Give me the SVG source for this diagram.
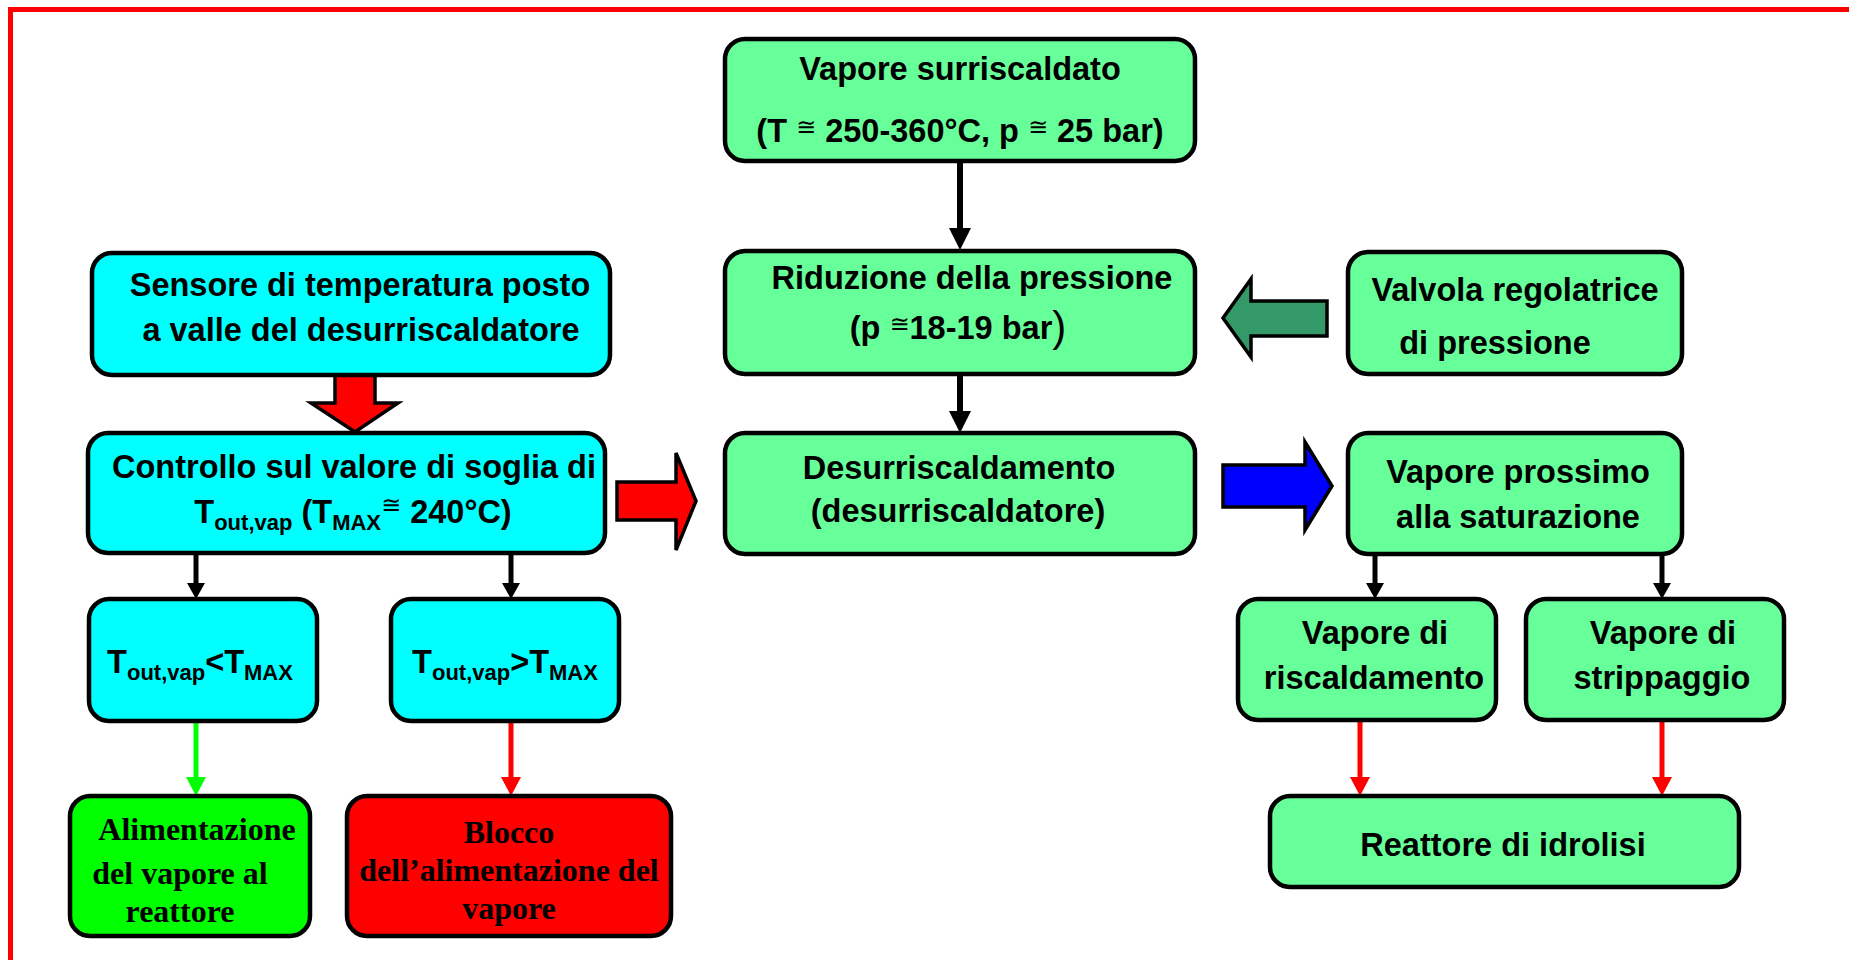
<svg xmlns="http://www.w3.org/2000/svg" width="1849" height="960" viewBox="0 0 1849 960">
<defs>
<style>
.box{stroke:#000;stroke-width:4.5}
.lg{fill:#66FF99}
.cy{fill:#00FFFF}
.gr{fill:#00FF00}
.rd{fill:#FF0000}
.t{font-family:"Liberation Sans",Arial,sans-serif;font-weight:bold;font-size:32.5px;fill:#000;text-anchor:middle}
.s{font-family:"Liberation Serif","Times New Roman",serif;font-weight:bold;font-size:32px;fill:#000;text-anchor:middle}
.sub{font-size:22px}
.cong{font-family:"DejaVu Sans",sans-serif;font-weight:normal;font-size:24px}
.blk{fill:none;stroke:#000;stroke-width:6}
.blks{fill:none;stroke:#000;stroke-width:5}
.gl{fill:none;stroke:#00FF00;stroke-width:5}
.rl{fill:none;stroke:#FF0000;stroke-width:5}
.barrow{stroke:#000;stroke-width:3.5;stroke-linejoin:miter}
</style>
<marker id="hb" markerUnits="userSpaceOnUse" markerWidth="24" markerHeight="24" refX="0" refY="11" orient="auto"><path d="M0,0 L22,11 L0,22 z" fill="#000"/></marker>
<marker id="hs" markerUnits="userSpaceOnUse" markerWidth="20" markerHeight="20" refX="0" refY="9" orient="auto"><path d="M0,0 L16,9 L0,18 z" fill="#000"/></marker>
<marker id="hg" markerUnits="userSpaceOnUse" markerWidth="22" markerHeight="22" refX="0" refY="10" orient="auto"><path d="M0,0 L19,10 L0,20 z" fill="#00FF00"/></marker>
<marker id="hr" markerUnits="userSpaceOnUse" markerWidth="22" markerHeight="22" refX="0" refY="10" orient="auto"><path d="M0,0 L19,10 L0,20 z" fill="#FF0000"/></marker>
</defs>
<rect x="0" y="0" width="1849" height="960" fill="#fff"/>
<rect x="10.5" y="9.5" width="1860" height="953" fill="none" stroke="#FF0000" stroke-width="5"/>

<g id="connectors">
<path class="blk" d="M960,162 V228" marker-end="url(#hb)"/>
<path class="blk" d="M960,374 V411" marker-end="url(#hb)"/>
<path class="blks" d="M196,553 V583" marker-end="url(#hs)"/>
<path class="blks" d="M511,553 V583" marker-end="url(#hs)"/>
<path class="blks" d="M1375,554 V583" marker-end="url(#hs)"/>
<path class="blks" d="M1662,554 V583" marker-end="url(#hs)"/>
<path class="gl" d="M196,722 V777" marker-end="url(#hg)"/>
<path class="rl" d="M511,722 V777" marker-end="url(#hr)"/>
<path class="rl" d="M1360,722 V777" marker-end="url(#hr)"/>
<path class="rl" d="M1662,722 V777" marker-end="url(#hr)"/>
<polygon class="barrow" fill="#FF0000" points="335,372 375,372 375,403 398,403 355,432 311,403 335,403"/>
<polygon class="barrow" fill="#FF0000" points="617,482 676,482 676,453 696,501 676,550 676,520 617,520"/>
<polygon class="barrow" fill="#339966" points="1327,301 1251,301 1251,279 1223,318 1251,357 1251,336 1327,336"/>
<polygon class="barrow" fill="#0000FF" points="1223,465 1305,465 1305,442 1332,486 1305,530 1305,507 1223,507"/>
</g>

<g id="n-vapore-surriscaldato">
<rect class="box lg" x="725" y="39" width="470" height="122" rx="20"/>
<text class="t" x="960" y="80">Vapore surriscaldato</text>
<text class="t" x="960" y="142">(T <tspan class="cong" dy="-7">≅</tspan><tspan dy="7"> 250-360°C, p </tspan><tspan class="cong" dy="-7">≅</tspan><tspan dy="7">  25 bar)</tspan></text>
</g>

<g id="n-riduzione">
<rect class="box lg" x="725" y="251" width="470" height="123" rx="20"/>
<text class="t" x="972" y="289">Riduzione della pressione</text>
<text class="t" x="958" y="339">(p <tspan class="cong" dy="-7">≅</tspan><tspan dy="7">18-19 bar</tspan><tspan font-size="42" font-weight="normal" dy="2">)</tspan></text>
</g>

<g id="n-desurriscaldamento">
<rect class="box lg" x="725" y="433" width="470" height="121" rx="20"/>
<text class="t" x="959" y="479">Desurriscaldamento</text>
<text class="t" x="958" y="522">(desurriscaldatore)</text>
</g>

<g id="n-valvola">
<rect class="box lg" x="1348" y="252" width="334" height="122" rx="20"/>
<text class="t" x="1515" y="301">Valvola regolatrice</text>
<text class="t" x="1495" y="354">di pressione</text>
</g>

<g id="n-vapore-prossimo">
<rect class="box lg" x="1348" y="433" width="334" height="121" rx="20"/>
<text class="t" x="1518" y="483">Vapore prossimo</text>
<text class="t" x="1518" y="528">alla saturazione</text>
</g>

<g id="n-sensore">
<rect class="box cy" x="92" y="253" width="518" height="122" rx="20"/>
<text class="t" x="360" y="296">Sensore di temperatura posto</text>
<text class="t" x="361" y="341">a valle del desurriscaldatore</text>
</g>

<g id="n-controllo">
<rect class="box cy" x="88" y="433" width="517" height="120" rx="20"/>
<text class="t" x="354" y="478">Controllo sul valore di soglia di</text>
<text class="t" x="353" y="523">T<tspan class="sub" dy="7">out,vap</tspan><tspan dy="-7"> (T</tspan><tspan class="sub" dy="7">MAX</tspan><tspan class="cong" dy="-17">≅</tspan><tspan dy="10"> 240°C)</tspan></text>
</g>

<g id="n-tminore">
<rect class="box cy" x="89" y="599" width="228" height="122" rx="20"/>
<text class="t" x="200" y="673">T<tspan class="sub" dy="7">out,vap</tspan><tspan dy="-7">&lt;T</tspan><tspan class="sub" dy="7">MAX</tspan></text>
</g>

<g id="n-tmaggiore">
<rect class="box cy" x="391" y="599" width="228" height="122" rx="20"/>
<text class="t" x="505" y="673">T<tspan class="sub" dy="7">out,vap</tspan><tspan dy="-7">&gt;T</tspan><tspan class="sub" dy="7">MAX</tspan></text>
</g>

<g id="n-alimentazione">
<rect class="box gr" x="70" y="796" width="240" height="140" rx="20"/>
<text class="s" x="197" y="840">Alimentazione</text>
<text class="s" x="180" y="884">del vapore al</text>
<text class="s" x="180" y="922">reattore</text>
</g>

<g id="n-blocco">
<rect class="box rd" x="347" y="796" width="324" height="140" rx="20"/>
<text class="s" x="509" y="843">Blocco</text>
<text class="s" x="509" y="881">dell’alimentazione del</text>
<text class="s" x="509" y="919">vapore</text>
</g>

<g id="n-riscaldamento">
<rect class="box lg" x="1238" y="599" width="258" height="121" rx="20"/>
<text class="t" x="1375" y="644">Vapore di</text>
<text class="t" x="1374" y="689">riscaldamento</text>
</g>

<g id="n-strippaggio">
<rect class="box lg" x="1526" y="599" width="258" height="121" rx="20"/>
<text class="t" x="1663" y="644">Vapore di</text>
<text class="t" x="1662" y="689">strippaggio</text>
</g>

<g id="n-reattore">
<rect class="box lg" x="1270" y="796" width="469" height="91" rx="20"/>
<text class="t" x="1503" y="856">Reattore di idrolisi</text>
</g>
</svg>
